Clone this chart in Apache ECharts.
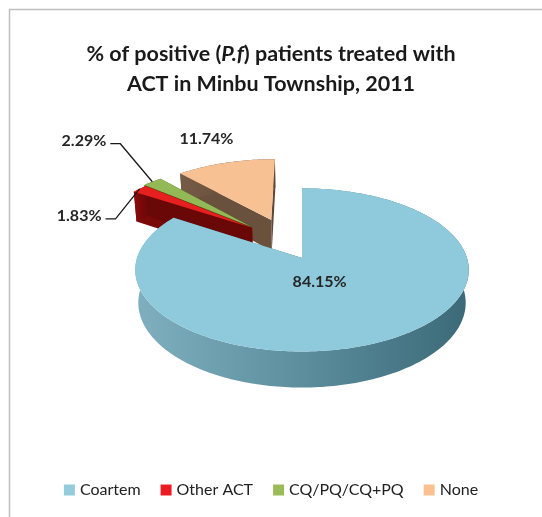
<!DOCTYPE html>
<html>
<head>
<meta charset="utf-8">
<script src="https://cdn.jsdelivr.net/npm/echarts@6/dist/echarts.min.js"></script>
<style>
  html, body { margin: 0; padding: 0; background: #fff; }
  #chart { width: 542px; height: 517px; }
</style>
</head>
<body>
<div id="chart"></div>
<script>
const categories = ['Coartem', 'Other ACT', 'CQ/PQ/CQ+PQ', 'None'];
const values = [84.15, 1.83, 2.29, 11.74];

// legend / top face colours, then the darker side colours
const topColors = ['#8fcadc', '#e6201f', '#93b957', '#f8c193'];
const sideColors = [
  ['#80b0c0', '#5c8e9e', '#3b6977'],
  ['#8c0d0d', '#7a0909', '#6a0707'],
  ['#5a7a27', '#4e6b1f', '#44601a'],
  ['#765b46', '#6a513e', '#5e4736']
];
const legendColors = ['#93cddd', '#ed1c24', '#9bbb59', '#fac090'];

// how far each slice is pulled out (disc-plane offset, radius units)
const explode = [[0, 0], [-0.32, 0.40], [-0.33, 0.42], [-0.2, 0.51]];
// painter order: back slices first
const drawRank = [3, 2, 1, 0];

// fake 3d view
const CX = 302, CY = 258, R = 165;
const SIN_A = 0.484, COS_A = 0.875, DIST = 6, H = 0.23;

function proj(x, y, z) {
  const v = y * SIN_A + z * COS_A;
  const d = y * COS_A - z * SIN_A;
  const s = DIST / (DIST + d);
  return [CX + x * R * s, CY - v * R * s];
}

const total = values.reduce((a, b) => a + b, 0);
const labelFont = 'bold 16px Lato';

function renderSlice(i) {
  return function (params, api) {
    let start = 0;
    for (let j = 0; j < i; j++) start += values[j];
    const a0 = start / total * Math.PI * 2;
    const a1 = (start + api.value(0)) / total * Math.PI * 2;
    const am = (a0 + a1) / 2;
    const ox = explode[i][0], oy = explode[i][1];
    const pt = (r, a, z) => proj(ox + r * Math.sin(a), oy + r * Math.cos(a), z);

    const n = Math.max(4, Math.ceil((a1 - a0) / 0.02));
    const arcTop = [], arcBot = [];
    for (let k = 0; k <= n; k++) {
      const a = a0 + (a1 - a0) * k / n;
      arcTop.push(pt(1, a, 0));
      arcBot.push(pt(1, a, -H));
    }
    const apexT = pt(0, 0, 0), apexB = pt(0, 0, -H);
    const z = drawRank[i] * 10;
    const side = {
      type: 'linear', x: 0, y: 0, x2: 1, y2: 0,
      colorStops: [
        { offset: 0, color: sideColors[i][0] },
        { offset: 0.5, color: sideColors[i][1] },
        { offset: 1, color: sideColors[i][2] }
      ]
    };
    const children = [
      { type: 'polygon', z2: z + 1, shape: { points: [apexT, arcTop[0], arcBot[0], apexB] }, style: { fill: sideColors[i][1] } },
      { type: 'polygon', z2: z + 1, shape: { points: [apexT, arcTop[n], arcBot[n], apexB] }, style: { fill: sideColors[i][2] } },
      { type: 'polygon', z2: z + 2, shape: { points: arcTop.concat(arcBot.slice().reverse()) }, style: { fill: side } },
      { type: 'polygon', z2: z + 3, shape: { points: [apexT].concat(arcTop) }, style: { fill: topColors[i] } }
    ];

    const text = values[i].toFixed(2) + '%';
    if (i === 0) {
      const p = pt(0.3, am + 0.15, 0);
      children.push({ type: 'text', z2: 100, style: { text, x: p[0], y: p[1], font: labelFont, fill: '#262626', align: 'center', verticalAlign: 'middle' } });
    } else if (i === 3) {
      const p = pt(1.5, am, 0);
      children.push({ type: 'text', z2: 100, style: { text, x: p[0], y: p[1], font: labelFont, fill: '#262626', align: 'center', verticalAlign: 'middle' } });
    } else {
      const p = pt(1.0, am, 0);
      const bend = i === 1 ? [p[0] - 24, p[1] + 30] : [p[0] - 32, p[1] - 38];
      const end = [bend[0] - 10, bend[1]];
      children.push({ type: 'polyline', z2: 100, shape: { points: [p, bend, end] }, style: { stroke: '#1a1a1a', lineWidth: 1.3, fill: null } });
      children.push({ type: 'text', z2: 100, style: { text, x: end[0] - 4, y: end[1] - 3, font: labelFont, fill: '#262626', align: 'right', verticalAlign: 'middle' } });
    }
    return { type: 'group', children };
  };
}

const chart = echarts.init(document.getElementById('chart'));
chart.setOption({
  animation: false,
  color: legendColors,
  title: {
    text: '% of positive ({i|P.f}) patients treated with\nACT in Minbu Township, 2011',
    left: 'center',
    top: 34,
    textStyle: {
      fontFamily: 'Lato', fontWeight: 'bold', fontSize: 21.5, lineHeight: 30, color: '#1a1a1a',
      rich: { i: { fontFamily: 'Lato', fontWeight: 'bold', fontStyle: 'italic', fontSize: 21.5, color: '#1a1a1a' } }
    }
  },
  legend: {
    bottom: 14,
    left: 'center',
    icon: 'rect',
    itemWidth: 11,
    itemHeight: 11,
    itemGap: 20,
    textStyle: { fontFamily: 'Lato', fontSize: 16, color: '#222' },
    data: categories
  },
  graphic: [{
    type: 'rect',
    shape: { x: 9.5, y: 9.5, width: 600, height: 600 },
    style: { fill: null, stroke: '#bfbfbf', lineWidth: 1.5 },
    silent: true
  }],
  series: categories.map((name, i) => ({
    type: 'custom',
    name,
    coordinateSystem: 'none',
    renderItem: renderSlice(i),
    data: [values[i]]
  }))
});
</script>
</body>
</html>
